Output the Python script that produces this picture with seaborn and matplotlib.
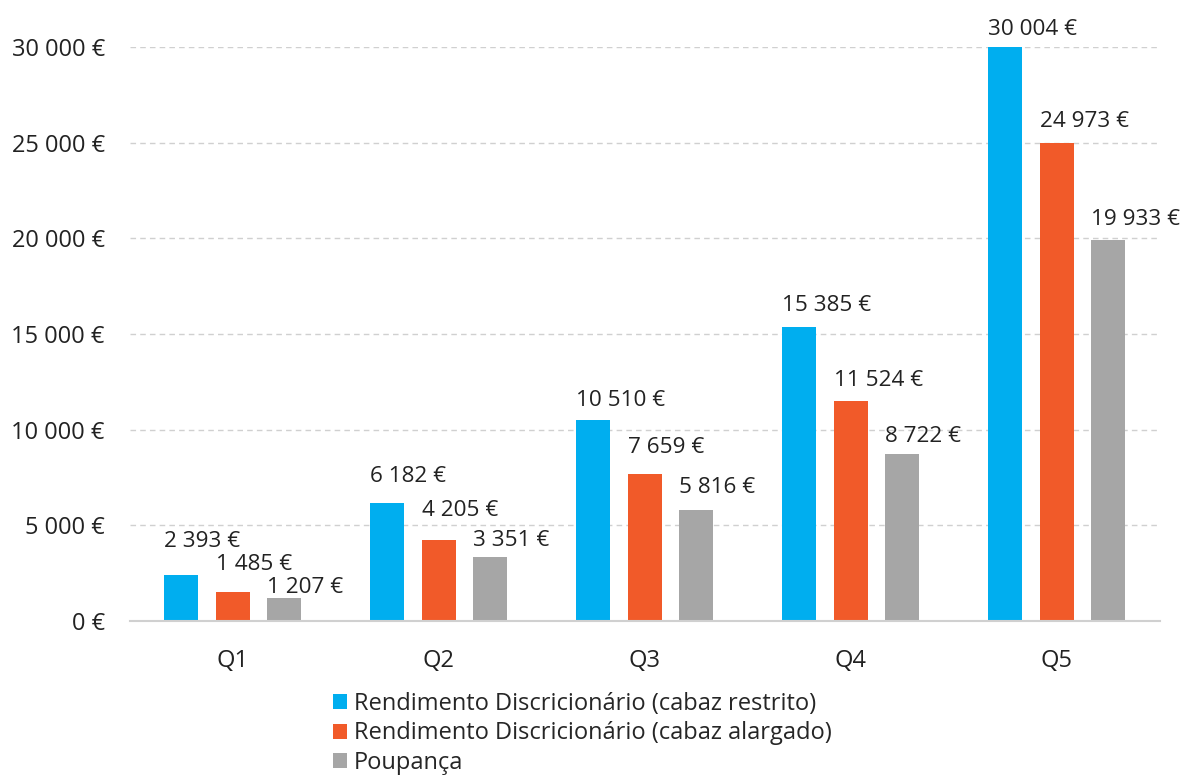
import numpy as np
import pandas as pd
import seaborn as sns
import matplotlib.pyplot as plt
from matplotlib.patches import Patch
from matplotlib.ticker import FuncFormatter

# Data
quintis = ["Q1", "Q2", "Q3", "Q4", "Q5"]
series = [
    "Rendimento Discricionário (cabaz restrito)",
    "Rendimento Discricionário (cabaz alargado)",
    "Poupança",
]
restrito = [2393, 6182, 10510, 15385, 30004]
alargado = [1485, 4205, 7659, 11524, 24973]
poupanca = [1207, 3351, 5816, 8722, 19933]
colors = ["#00aeef", "#f15a29", "#a6a6a6"]

# vertical nudge (px) of each value label above its bar, as placed in the original
label_lift = [
    [34, 26, 19, 21, 18],
    [28, 30, 27, 20, 22],
    [10, 16, 22, 18, 20],
]

df = pd.DataFrame({
    "Quintil": quintis * 3,
    "Série": [series[0]] * 5 + [series[1]] * 5 + [series[2]] * 5,
    "Valor": restrito + alargado + poupanca,
})

sns.set_theme(style="white")
plt.rcParams["font.family"] = ["Open Sans", "DejaVu Sans"]
FS = 17


def eur(v):
    return f"{v:,.0f}".replace(",", " ") + " €"


fig = plt.figure(figsize=(11.8, 7.76), dpi=100)
ax = fig.add_axes([0.110, 0.200, 0.873, 0.739])

sns.barplot(
    data=df, x="Quintil", y="Valor", hue="Série",
    palette=colors, width=0.75, gap=0.34, ax=ax,
    legend=False, saturation=1, linewidth=0,
)

ax.set_ylim(0, 30000)
ax.set_xlim(-0.5, 4.5)
ax.set_yticks(np.arange(0, 30001, 5000))
ax.yaxis.set_major_formatter(FuncFormatter(lambda v, p: eur(v)))
ax.yaxis.grid(True, color="#d0d0d0", linestyle=(0, (4, 3)), linewidth=1)
ax.set_axisbelow(True)
ax.tick_params(axis="both", length=0, labelsize=FS, colors="#222222")
ax.tick_params(axis="y", pad=18)
ax.tick_params(axis="x", pad=20)
ax.set_xlabel("")
ax.set_ylabel("")
for s in ["top", "right", "left"]:
    ax.spines[s].set_visible(False)
ax.spines["bottom"].set_color("#d0d0d0")
ax.spines["bottom"].set_linewidth(1.5)

# value labels, left-aligned with each bar (patches come series by series)
for i, bar in enumerate(ax.patches[:15]):
    h = bar.get_height()
    s, q = divmod(i, 5)
    ax.annotate(eur(h), (bar.get_x(), h), xytext=(0, label_lift[s][q]),
                textcoords="offset pixels", ha="left", va="center",
                fontsize=16.2, color="#222222", annotation_clip=False)

handles = [Patch(facecolor=c, edgecolor="none") for c in colors]
fig.legend(handles, series, loc="lower left", bbox_to_anchor=(0.274, -0.011),
           frameon=False, fontsize=FS, handlelength=0.6, handleheight=0.6,
           handletextpad=0.3, labelspacing=0.24, borderaxespad=0)

fig.savefig("out.png", dpi=100)
